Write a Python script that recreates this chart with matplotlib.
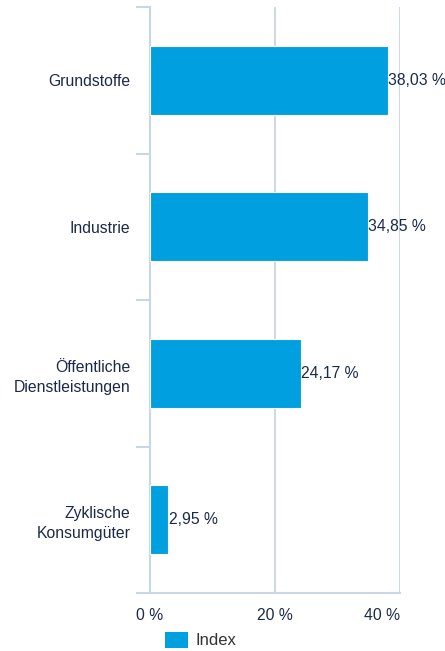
import numpy as np
import matplotlib.pyplot as plt
from matplotlib.patches import Patch

plt.rcParams['font.family'] = ['Liberation Sans', 'DejaVu Sans']

categories = ["Grundstoffe", "Industrie", "Öffentliche\nDienstleistungen", "Zyklische\nKonsumgüter"]
values = [38.03, 34.85, 24.17, 2.95]
value_labels = ["38,03 %", "34,85 %", "24,17 %", "2,95 %"]
xticks = [0, 20, 40]
xtick_labels = ["0 %", "20 %", "40 %"]

bar_color = "#009FDF"
text_color = "#1B2A4A"
grid_color = "#C9D6E6"
fs = 11.3

fig = plt.figure(figsize=(4.45, 6.51), dpi=100)
ax = fig.add_axes([150/445, 58/651, 250/445, 586/651])

y = np.arange(len(categories))
ax.barh(y, values, height=0.47, color=bar_color, edgecolor="white", linewidth=0.8, zorder=3)
for yi, v, lab in zip(y, values, value_labels):
    ax.text(v + 0.05, yi, lab, va="center", ha="left", fontsize=fs, color=text_color, zorder=4)

ax.set_xlim(0, 40)
ax.set_ylim(len(categories) - 0.5, -0.5)
ax.set_xticks(xticks)
ax.set_xticklabels(xtick_labels, fontsize=fs, color=text_color)
ax.get_xticklabels()[-1].set_ha("right")
ax.tick_params(axis="x", length=0, pad=11)

ax.set_yticks(y)
ax.set_yticklabels(categories, fontsize=fs, color=text_color, ha="right",
                   multialignment="right", linespacing=1.4)
ax.tick_params(axis="y", which="major", length=0, pad=14)
ax.set_yticks(np.arange(-0.5, len(categories)), minor=True)
ax.tick_params(axis="y", which="minor", length=10, width=1.5, color=grid_color)

ax.grid(axis="x", color=grid_color, linewidth=1.3, zorder=0)
for s in ["top", "right"]:
    ax.spines[s].set_visible(False)
ax.spines["left"].set_color(grid_color)
ax.spines["left"].set_linewidth(1.5)
ax.spines["bottom"].set_color(grid_color)
ax.spines["bottom"].set_linewidth(1.5)

handles = [Patch(facecolor=bar_color, label="Index")]
fig.legend(handles=handles, loc="lower left", bbox_to_anchor=(150/445, -0.019), frameon=False,
           fontsize=12, handlelength=1.4, handleheight=1.1, handletextpad=0.45, labelcolor="#333333")

fig.savefig("out.png", dpi=100)
